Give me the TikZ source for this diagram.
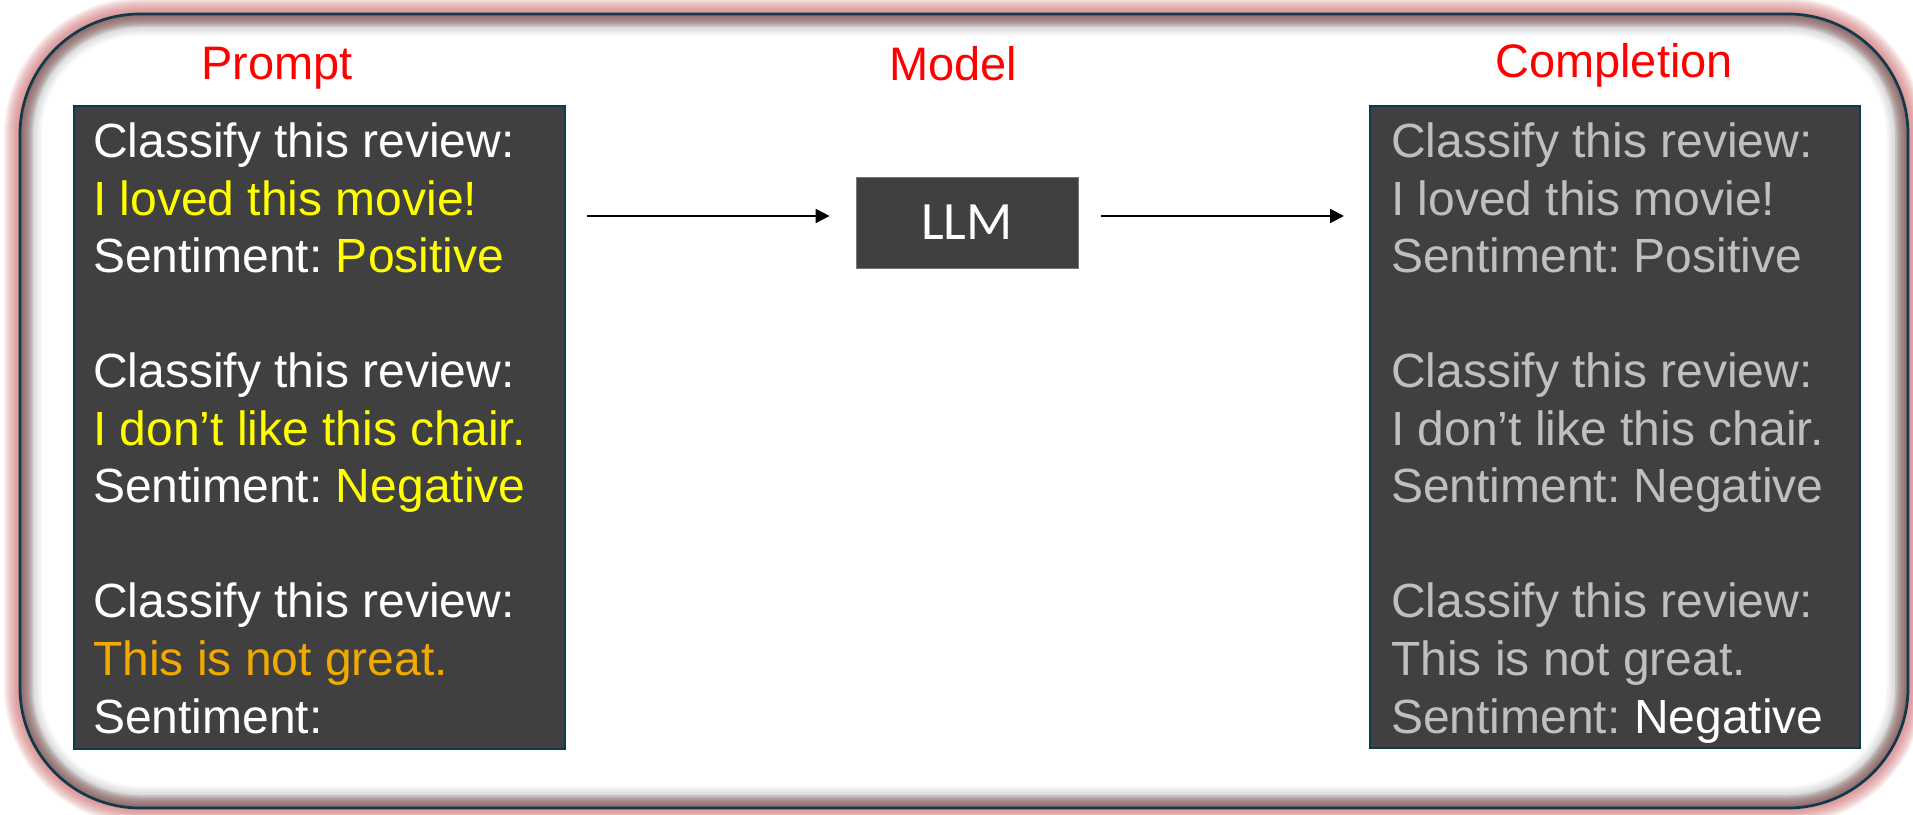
\documentclass[tikz,border=0pt]{standalone}
\usepackage{fontspec}
\setmainfont{Liberation Sans}
\newfontfamily\llmfont{Carlito}
\usetikzlibrary{arrows.meta}
\definecolor{panel}{HTML}{404040}
\definecolor{frameline}{HTML}{0F3A4C}
\definecolor{outerglow}{RGB}{210,110,110}
\definecolor{innerglow}{RGB}{120,55,55}
\definecolor{hl}{HTML}{FFFF00}
\definecolor{hlorange}{HTML}{F2A900}
\definecolor{dimtext}{HTML}{BFBFBF}
\definecolor{titlered}{HTML}{FF0000}

\begin{document}
\frenchspacing
\begin{tikzpicture}[x=1pt,y=1pt,
  panelbox/.style={fill=panel, draw=frameline, line width=2pt, inner sep=0pt},
  txtline/.style={anchor=base west, inner sep=0pt, font=\fontsize{48}{57}\selectfont},
  title/.style={anchor=base, inner sep=0pt, text=titlered, font=\fontsize{47}{56}\selectfont},
  arr/.style={line width=2pt, -{Triangle[length=14pt,width=14pt]}},
  outer/.style={rounded corners=120pt},
]
\useasboundingbox (0,0) rectangle (1913,814);
\fill[white] (0,0) rectangle (1913,814);

% pink glow outside the frame
\foreach \w in {32,30,...,4}
  \draw[outerglow, line width=\w pt, opacity=0.07, outer] (20,6) rectangle (1908,800);
\fill[white, outer] (20,6) rectangle (1908,800);
% darker shaded band just inside the frame
\begin{scope}
  \clip[outer] (20,6) rectangle (1908,800);
  \foreach \w in {44,41,...,20}
    \draw[black, line width=\w pt, opacity=0.025, outer] (20,6) rectangle (1908,800);
  \foreach \w in {26,23,...,2}
    \draw[innerglow, line width=\w pt, opacity=0.11, outer] (20,6) rectangle (1908,800);
\end{scope}
\draw[frameline, line width=2.7pt, outer] (20,6) rectangle (1908,800);

% titles
\node[title] (tprompt) at (277,734) {Prompt};
\node[title] (tmodel) at (953,733) {Model};
\node[title] (tcompl) at (1614,736) {Completion};

% panels
\node[panelbox, anchor=north west, minimum width=491pt, minimum height=643pt] (prompt) at (73,709) {};
\node[panelbox, anchor=north west, minimum width=490pt, minimum height=642pt] (compl) at (1369,709) {};
\node[fill=panel, draw={rgb,255:red,120;green,120;blue,120}, line width=0.8pt,
      minimum width=222pt, minimum height=91pt, inner sep=0pt,
      text=white, font=\llmfont\fontsize{54}{60}\selectfont] (llm) at (967,591.5) {LLM};

% prompt text
\node[txtline, text=white] (p1) at (93,656) {Classify this review:};
\node[txtline, text=hl] (p2) at (93,598.5) {I loved this movie!};
\node[txtline, text=white] (p3) at (93,541) {Sentiment: \textcolor{hl}{Positive}};
\node[txtline, text=white] (p5) at (93,426) {Classify this review:};
\node[txtline, text=hl] (p6) at (93,368.5) {I don’t like this chair.};
\node[txtline, text=white] (p7) at (93,311) {Sentiment: \textcolor{hl}{Negative}};
\node[txtline, text=white] (p9) at (93,196) {Classify this review:};
\node[txtline, text=hlorange] (p10) at (93,138.5) {This is not great.};
\node[txtline, text=white] (p11) at (93,81) {Sentiment:};

% completion text
\node[txtline, text=dimtext] (c1) at (1391,656) {Classify this review:};
\node[txtline, text=dimtext] (c2) at (1391,598.5) {I loved this movie!};
\node[txtline, text=dimtext] (c3) at (1391,541) {Sentiment: Positive};
\node[txtline, text=dimtext] (c5) at (1391,426) {Classify this review:};
\node[txtline, text=dimtext] (c6) at (1391,368.5) {I don’t like this chair.};
\node[txtline, text=dimtext] (c7) at (1391,311) {Sentiment: Negative};
\node[txtline, text=dimtext] (c9) at (1391,196) {Classify this review:};
\node[txtline, text=dimtext] (c10) at (1391,138.5) {This is not great.};
\node[txtline, text=dimtext] (c11) at (1391,81) {Sentiment: \textcolor{white}{Negative}};

% connectors
\coordinate (a1s) at (587,598);
\coordinate (a2e) at (1344,598);
\draw[arr, shorten >=26pt] (a1s) -- (llm.west |- a1s);
\draw[arr, shorten <=23pt] (llm.east |- a2e) -- (a2e);
\end{tikzpicture}
\end{document}
